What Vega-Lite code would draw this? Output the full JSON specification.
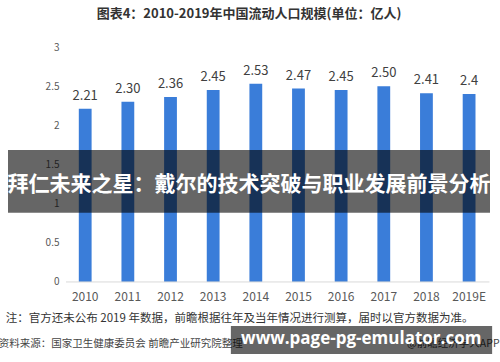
{
  "$schema": "https://vega.github.io/schema/vega-lite/v6.json",
  "width": 482,
  "height": 307,
  "autosize": {"type": "none"},
  "padding": {"left": 8, "top": 47, "right": 10, "bottom": 8},
  "background": "white",
  "config": {"view": {"stroke": null}, "font": "Noto Sans CJK SC"},
  "title": {
    "text": "图表4：2010-2019年中国流动人口规模(单位：亿人)",
    "fontSize": 13,
    "fontWeight": "bold",
    "color": "#333333",
    "font": "Noto Sans CJK SC",
    "anchor": "middle",
    "offset": 21
  },
  "datasets": {
    "flow": [
      {"year": "2010", "value": 2.21, "label": "2.21"},
      {"year": "2011", "value": 2.30, "label": "2.30"},
      {"year": "2012", "value": 2.36, "label": "2.36"},
      {"year": "2013", "value": 2.45, "label": "2.45"},
      {"year": "2014", "value": 2.53, "label": "2.53"},
      {"year": "2015", "value": 2.47, "label": "2.47"},
      {"year": "2016", "value": 2.45, "label": "2.45"},
      {"year": "2017", "value": 2.50, "label": "2.50"},
      {"year": "2018", "value": 2.41, "label": "2.41"},
      {"year": "2019E", "value": 2.40, "label": "2.4"}
    ]
  },
  "layer": [
    {
      "data": {"name": "flow"},
      "mark": {"type": "bar", "color": "#3a7dd9"},
      "encoding": {
        "x": {
          "field": "year",
          "type": "ordinal",
          "sort": null,
          "scale": {"paddingInner": 0.7, "paddingOuter": 1.1, "align": 0.83},
          "axis": {
            "orient": "bottom",
            "offset": -72,
            "domain": false,
            "ticks": false,
            "labelPadding": 9,
            "labelFontSize": 12,
            "labelColor": "#595959",
            "labelAngle": 0,
            "labelFont": "Noto Sans CJK SC",
            "title": null
          }
        },
        "y": {
          "field": "value",
          "type": "quantitative",
          "scale": {"domain": [-0.92, 3], "nice": false, "zero": false},
          "axis": {
            "values": [0, 0.5, 1, 1.5, 2, 2.5, 3],
            "format": "~g",
            "domain": false,
            "ticks": false,
            "grid": false,
            "offset": -53,
            "labelPadding": 2,
            "labelFontSize": 10,
            "labelColor": "#595959",
            "labelFont": "Noto Sans CJK SC",
            "title": null
          }
        },
        "y2": {"datum": 0}
      }
    },
    {
      "data": {"name": "flow"},
      "mark": {"type": "text", "dy": -9, "baseline": "alphabetic", "fontSize": 13, "color": "#404040"},
      "encoding": {
        "x": {"field": "year", "type": "ordinal", "sort": null},
        "y": {"field": "value", "type": "quantitative"},
        "text": {"field": "label"}
      }
    },
    {
      "data": {"values": [{}]},
      "mark": {"type": "rule", "color": "#d9d9d9", "strokeWidth": 1},
      "encoding": {
        "x": {"datum": "2010", "type": "ordinal", "bandPosition": -1.0},
        "x2": {"datum": "2019E", "bandPosition": 2.09},
        "y": {"datum": 0, "type": "quantitative"}
      }
    },
    {
      "data": {"values": [{}]},
      "mark": {"type": "rect", "color": "#000000", "opacity": 0.6},
      "encoding": {
        "y": {"datum": 1.685, "type": "quantitative"},
        "y2": {"datum": 0.884}
      }
    },
    {
      "data": {"values": [{"t": "拜仁未来之星：戴尔的技术突破与职业发展前景分析"}]},
      "mark": {"type": "text", "fontSize": 21, "fontWeight": "bold", "color": "#ffffff", "align": "center", "baseline": "middle", "font": "Noto Sans CJK SC"},
      "encoding": {
        "y": {"datum": 1.238, "type": "quantitative"},
        "text": {"field": "t"}
      }
    },
    {
      "data": {"values": [{"t": "注：官方还未公布 2019 年数据，前瞻根据往年及当年情况进行测算，届时以官方数据为准。"}]},
      "mark": {"type": "text", "fontSize": 11.5, "color": "#333333", "align": "left", "baseline": "middle", "font": "Noto Sans CJK SC"},
      "encoding": {
        "x": {"datum": "2010", "type": "ordinal", "bandPosition": -5.71},
        "y": {"datum": -0.47, "type": "quantitative"},
        "text": {"field": "t"}
      }
    },
    {
      "data": {"values": [{"t": "资料来源：国家卫生健康委员会 前瞻产业研究院整理"}]},
      "mark": {"type": "text", "fontSize": 10.5, "color": "#444444", "align": "left", "baseline": "middle", "font": "Noto Sans CJK SC"},
      "encoding": {
        "x": {"datum": "2010", "type": "ordinal", "bandPosition": -6.25},
        "y": {"datum": -0.792, "type": "quantitative"},
        "text": {"field": "t"}
      }
    },
    {
      "data": {"values": [{"t": "@前瞻经济学人APP"}]},
      "mark": {"type": "text", "fontSize": 10.5, "color": "#444444", "align": "right", "baseline": "middle", "font": "Noto Sans CJK SC"},
      "encoding": {
        "x": {"datum": "2019E", "type": "ordinal", "bandPosition": 2.88},
        "y": {"datum": -0.792, "type": "quantitative"},
        "text": {"field": "t"}
      }
    },
    {
      "data": {"values": [{}]},
      "mark": {"type": "rect", "color": "#000000", "opacity": 0.6},
      "encoding": {
        "x": {"datum": "2014", "type": "ordinal", "bandPosition": -1.45},
        "x2": {"datum": "2019E", "bandPosition": 2.3},
        "y": {"datum": -0.562, "type": "quantitative"},
        "y2": {"datum": -0.92}
      }
    },
    {
      "data": {"values": [{"t": "www.page-pg-emulator.com"}]},
      "mark": {"type": "text", "fontSize": 17, "fontWeight": "bold", "color": "#ffffff", "align": "center", "baseline": "middle", "font": "Open Sans"},
      "encoding": {
        "x": {"datum": "2016", "type": "ordinal", "bandPosition": 2.07},
        "y": {"datum": -0.728, "type": "quantitative"},
        "text": {"field": "t"}
      }
    }
  ]
}
